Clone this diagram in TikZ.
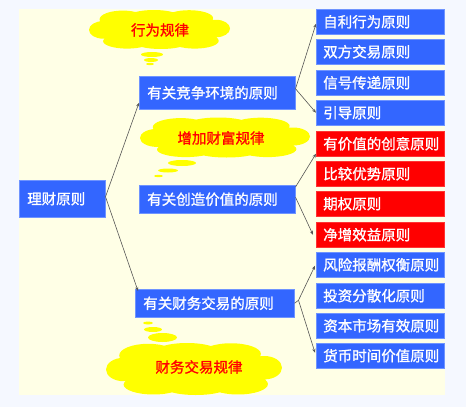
\documentclass[tikz,border=0pt]{standalone}
\usepackage{fontspec}
\newfontfamily\cjk{Noto Sans CJK SC}[FakeBold=1.2]
\usetikzlibrary{arrows.meta,calc}
\definecolor{outerbg}{HTML}{F5F8FF}
\definecolor{innerbg}{HTML}{FFFFE6}
\definecolor{boxblue}{HTML}{3366FF}
\definecolor{boxedge}{HTML}{6F94FF}
\definecolor{boxred}{HTML}{FF0000}
\definecolor{cloudyel}{HTML}{FFFF00}
\definecolor{linegray}{HTML}{555555}
\tikzset{
  txt/.style={font=\cjk\fontsize{14.5}{16}\selectfont},
  bluebox/.style={txt, rectangle, fill=boxblue, draw=boxedge, line width=0.5pt, text=white,
     minimum height=#1, inner ysep=0pt, inner xsep=8pt, align=left, anchor=north west},
  bluebox/.default=25pt,
  rightbox/.style={bluebox, text width=114pt, inner xsep=7pt},
  redbox/.style={rightbox, fill=boxred, draw=boxred!80!white},
  bubble/.style={fill=cloudyel, draw=none},
  cloudtxt/.style={txt, text=red},
  conn/.style={draw=linegray, line width=0.6pt, -{Stealth[length=4pt,width=3.2pt]}}
}
% unit cloud, spanning about [-1,1] x [-1,1]
\newcommand\unitcloud{%
  \fill[cloudyel]
    (0,0) ellipse [x radius=.85, y radius=.72]
    (-.80,.02) ellipse [x radius=.20, y radius=.45]
    (-.52,-.52) ellipse [x radius=.33, y radius=.45]
    (-.08,-.66) ellipse [x radius=.36, y radius=.34]
    (.42,-.58) ellipse [x radius=.34, y radius=.41]
    (.80,-.05) ellipse [x radius=.20, y radius=.45]
    (.50,.58) ellipse [x radius=.34, y radius=.40]
    (.02,.66) ellipse [x radius=.38, y radius=.34]
    (-.46,.60) ellipse [x radius=.34, y radius=.38];}
\begin{document}
\begin{tikzpicture}[x=1pt,y=-1pt]
\fill[outerbg] (0,0) rectangle (466,407);
\fill[innerbg] (19,9) rectangle (445,395);
\useasboundingbox (0,0) rectangle (466,407);

% clouds
\begin{scope}[shift={(159.5,29.5)}, x=70.5pt, y=-19.5pt]
  \unitcloud
\end{scope}
\fill[bubble] (152,54.5) ellipse [x radius=11, y radius=2.5];
\fill[bubble] (151,60) ellipse [x radius=7, y radius=2];
\fill[bubble] (150,64) ellipse [x radius=4, y radius=1.2];
\node[cloudtxt] (t1) at (160,30) {行为规律};

\begin{scope}[shift={(225,137.5)}, x=85pt, y=-20pt]
  \unitcloud
\end{scope}
\fill[bubble] (182,163) ellipse [x radius=14, y radius=3];
\fill[bubble] (168,170.5) ellipse [x radius=10, y radius=2];
\fill[bubble] (158.5,176) ellipse [x radius=4.5, y radius=1.2];
\node[cloudtxt] (t2) at (221,138) {增加财富规律};

\begin{scope}
\clip (19,9) rectangle (445,395);
\begin{scope}[shift={(194,369)}, x=88pt, y=-26pt]
  \unitcloud
\end{scope}
\end{scope}
\fill[bubble] (148,323) ellipse [x radius=5, y radius=1.5];
\fill[bubble] (153,329.5) ellipse [x radius=9, y radius=2.5];
\fill[bubble] (162.5,337.5) ellipse [x radius=14.5, y radius=4.5];
\node[cloudtxt] (t3) at (199,367) {财务交易规律};

% left box
\node[bluebox=37pt, text width=70pt] (L) at (19,180) {理财原则};

% middle boxes
\node[bluebox=33pt, text width=140pt] (A) at (139,76) {有关竞争环境的原则};
\node[bluebox=28pt, text width=140pt] (B) at (139,185) {有关创造价值的原则};
\node[bluebox=28pt, text width=143pt] (C) at (135,289) {有关财务交易的原则};

% right boxes
\node[rightbox] (R1) at (316,9) {自利行为原则};
\node[rightbox] (R2) at (316,39) {双方交易原则};
\node[rightbox] (R3) at (316,70) {信号传递原则};
\node[rightbox] (R4) at (316,100) {引导原则};
\node[redbox] (R5) at (316,131) {有价值的创意原则};
\node[redbox] (R6) at (316,161) {比较优势原则};
\node[redbox] (R7) at (316,191) {期权原则};
\node[redbox] (R8) at (316,222) {净增效益原则};
\node[rightbox] (R9) at (316,252) {风险报酬权衡原则};
\node[rightbox] (R10) at (316,283) {投资分散化原则};
\node[rightbox] (R11) at (316,313) {资本市场有效原则};
\node[rightbox] (R12) at (316,343) {货币时间价值原则};

% connectors
\draw[conn] ([yshift=2pt]L.east) -- ([yshift=-10pt]A.west);
\draw[conn] ([yshift=2pt]L.east) -- ([xshift=3pt,yshift=-2pt]C.north west);

\draw[conn] ([yshift=4pt]A.east) -- ([yshift=-2pt]R1.west);
\draw[conn] ([yshift=4pt]A.east) -- (R4.west);

\draw[conn] ([yshift=-2pt]B.north east) -- ([yshift=-10pt]R5.west);
\draw[conn] ([yshift=2pt]B.east) -- ([xshift=-3pt]R8.west);

\coordinate (cj) at ($(C.east)+(4,-3)$);
\draw[linegray, line width=0.6pt] (C.east) -- (cj);
\draw[conn] (cj) -- ([xshift=-1pt,yshift=-1pt]R9.west);
\draw[conn] (cj) -- ([xshift=-1pt,yshift=3pt]R12.west);
\end{tikzpicture}
\end{document}
